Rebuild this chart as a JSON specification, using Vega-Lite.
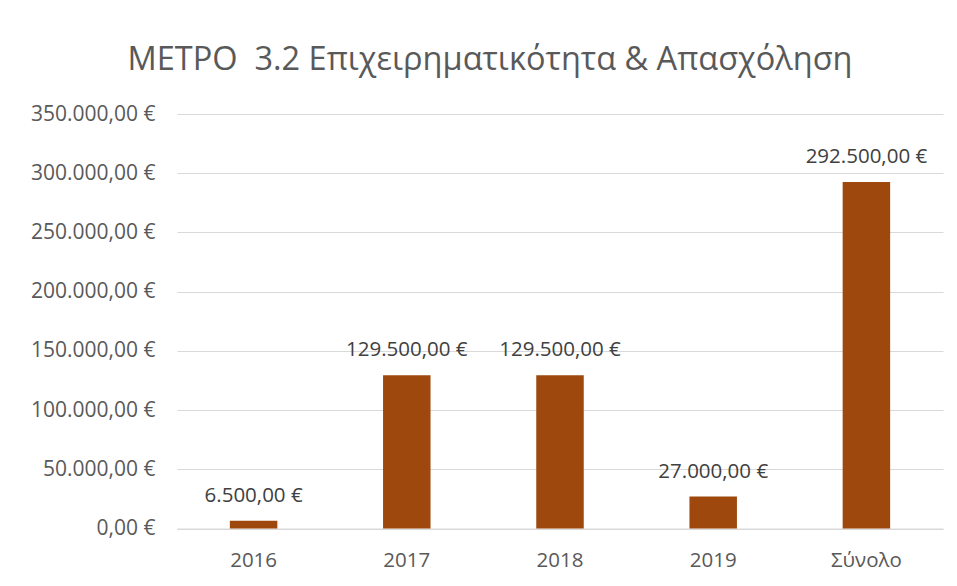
{
  "$schema": "https://vega.github.io/schema/vega-lite/v6.json",
  "width": 766,
  "height": 414.5,
  "autosize": {"type": "none"},
  "padding": {"left": 177, "top": 114, "right": 14, "bottom": 57.5},
  "background": "white",
  "config": {
    "view": {"stroke": null},
    "font": "Open Sans",
    "locale": {
      "number": {"decimal": ",", "thousands": ".", "grouping": [3], "currency": ["", "\u00a0€"]}
    }
  },
  "title": {
    "text": "ΜΕΤΡΟ\u00a0 3.2 Επιχειρηματικότητα & Απασχόληση",
    "font": "Open Sans",
    "fontSize": 32.5,
    "fontWeight": "normal",
    "color": "#595959",
    "anchor": "middle",
    "frame": "group",
    "dx": -70,
    "offset": 1,
    "baseline": "alphabetic"
  },
  "data": {
    "values": [
      {"year": "2016", "amount": 6500},
      {"year": "2017", "amount": 129500},
      {"year": "2018", "amount": 129500},
      {"year": "2019", "amount": 27000},
      {"year": "Σύνολο", "amount": 292500}
    ]
  },
  "encoding": {
    "x": {
      "field": "year",
      "type": "nominal",
      "sort": null,
      "scale": {"paddingInner": 0.69, "paddingOuter": 0.345},
      "axis": {
        "title": null,
        "labelAngle": 0,
        "labelFont": "Open Sans",
        "labelFontSize": 20.5,
        "labelColor": "#595959",
        "labelPadding": 22,
        "ticks": false,
        "domainColor": "#d9d9d9",
        "domainWidth": 1.2
      }
    },
    "y": {
      "field": "amount",
      "type": "quantitative",
      "scale": {"domain": [0, 350000], "nice": false},
      "axis": {
        "title": null,
        "values": [0, 50000, 100000, 150000, 200000, 250000, 300000, 350000],
        "format": "$,.2f",
        "labelFont": "Open Sans",
        "labelFontSize": 21,
        "labelColor": "#595959",
        "labelPadding": 22,
        "ticks": false,
        "domain": false,
        "gridColor": "#d9d9d9",
        "gridWidth": 1.2
      }
    }
  },
  "layer": [
    {"mark": {"type": "bar", "color": "#9E480E"}},
    {
      "mark": {"type": "text", "baseline": "alphabetic", "dy": -19, "fontSize": 20.5, "font": "Open Sans", "color": "#404040"},
      "encoding": {"text": {"field": "amount", "type": "quantitative", "format": "$,.2f"}}
    }
  ]
}
